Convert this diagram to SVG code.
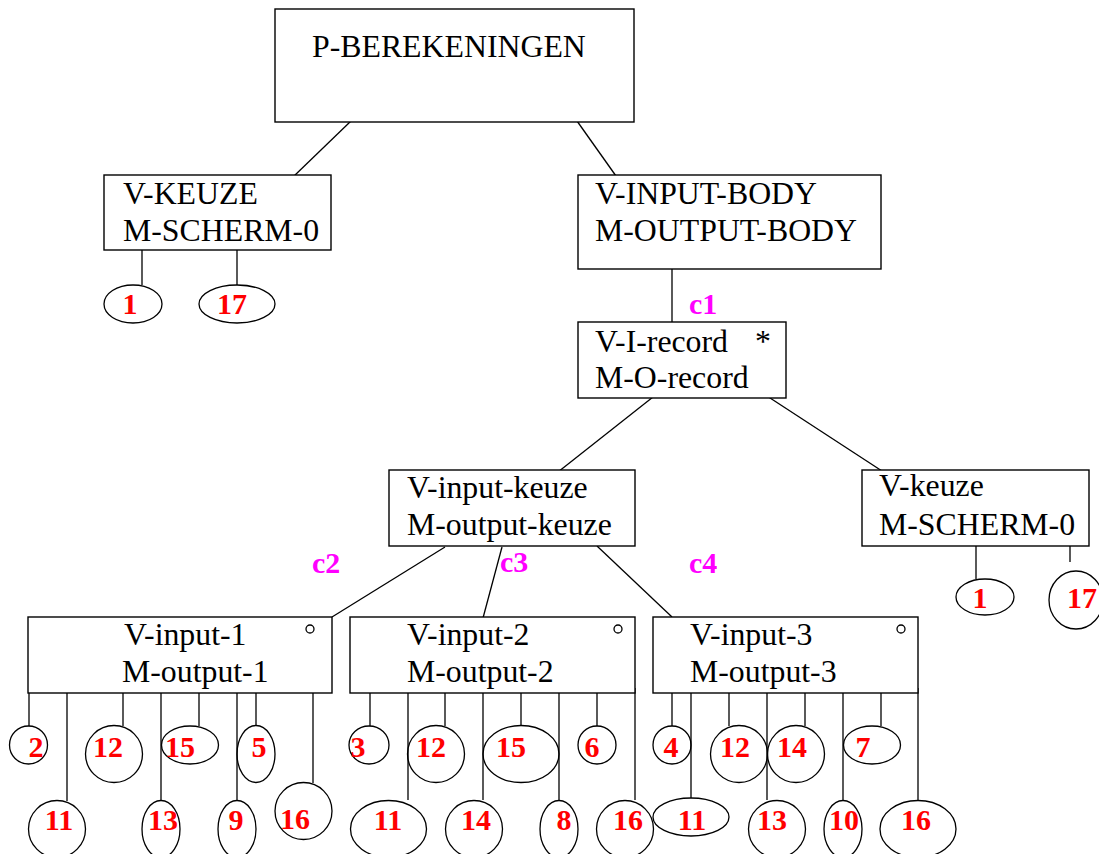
<svg xmlns="http://www.w3.org/2000/svg" width="1099" height="854" viewBox="0 0 1099 854">
<style>
.box{fill:#fff;stroke:#000;stroke-width:1.4}
.t{font-family:"Liberation Serif","Times New Roman",serif;font-size:31.8px;fill:#000}
.n{font-family:"Liberation Serif","Times New Roman",serif;font-size:30px;font-weight:bold;fill:#ff0000;text-anchor:middle}
.c{font-family:"Liberation Serif","Times New Roman",serif;font-size:30px;font-weight:bold;fill:#ff00ff}
.e{fill:none;stroke:#000;stroke-width:1.3}
.l{stroke:#000;stroke-width:1.3;fill:none}
.deg{fill:none;stroke:#000;stroke-width:1.3}
</style>
<rect width="1099" height="854" fill="#fff"/>
<g id="connectors">
<line class="l" x1="351" y1="121" x2="293" y2="177"/>
<line class="l" x1="577" y1="121" x2="616" y2="176"/>
<line class="l" x1="672" y1="268" x2="672" y2="323"/>
<line class="l" x1="653" y1="397" x2="558" y2="472"/>
<line class="l" x1="767" y1="396" x2="882" y2="471"/>
<line class="l" x1="445" y1="547" x2="332" y2="617"/>
<line class="l" x1="502" y1="547" x2="483" y2="618"/>
<line class="l" x1="597" y1="546" x2="672" y2="617"/>
<line class="l" x1="142" y1="250" x2="142" y2="285"/>
<line class="l" x1="237" y1="250" x2="237" y2="285"/>
<line class="l" x1="976" y1="546" x2="976" y2="579"/>
<line class="l" x1="1070" y1="546" x2="1070" y2="562"/>
<line class="l" x1="29" y1="688" x2="29" y2="726"/>
<line class="l" x1="67" y1="688" x2="67" y2="801"/>
<line class="l" x1="123" y1="688" x2="123" y2="726"/>
<line class="l" x1="161" y1="688" x2="161" y2="800"/>
<line class="l" x1="199" y1="688" x2="199" y2="726"/>
<line class="l" x1="237" y1="688" x2="237" y2="800"/>
<line class="l" x1="256" y1="688" x2="256" y2="726"/>
<line class="l" x1="313" y1="688" x2="313" y2="783"/>
<line class="l" x1="370" y1="688" x2="370" y2="726"/>
<line class="l" x1="408" y1="688" x2="408" y2="800"/>
<line class="l" x1="445" y1="688" x2="445" y2="726"/>
<line class="l" x1="483" y1="688" x2="483" y2="800"/>
<line class="l" x1="521" y1="688" x2="521" y2="726"/>
<line class="l" x1="559" y1="688" x2="559" y2="800"/>
<line class="l" x1="597" y1="688" x2="597" y2="726"/>
<line class="l" x1="635" y1="688" x2="635" y2="800"/>
<line class="l" x1="672" y1="688" x2="672" y2="726"/>
<line class="l" x1="691" y1="688" x2="691" y2="798"/>
<line class="l" x1="729" y1="688" x2="729" y2="726"/>
<line class="l" x1="767" y1="688" x2="767" y2="800"/>
<line class="l" x1="805" y1="688" x2="805" y2="726"/>
<line class="l" x1="843" y1="688" x2="843" y2="800"/>
<line class="l" x1="881" y1="688" x2="881" y2="726"/>
<line class="l" x1="918" y1="688" x2="918" y2="800"/>
</g>
<g id="root">
<rect class="box" x="275" y="9" width="359" height="113"/>
<text class="t" x="312" y="57">P-BEREKENINGEN</text>
</g>
<g id="v-keuze-top">
<rect class="box" x="104" y="175" width="227" height="75"/>
<text class="t" x="123" y="204">V-KEUZE</text>
<text class="t" x="123" y="241">M-SCHERM-0</text>
</g>
<g id="v-input-body">
<rect class="box" x="578" y="175" width="303" height="94"/>
<text class="t" x="595" y="204">V-INPUT-BODY</text>
<text class="t" x="595" y="241">M-OUTPUT-BODY</text>
</g>
<g id="v-i-record">
<rect class="box" x="578" y="322" width="208" height="76"/>
<text class="t" x="595" y="352">V-I-record</text>
<text class="t" x="755" y="352">*</text>
<text class="t" x="595" y="388">M-O-record</text>
</g>
<g id="v-input-keuze">
<rect class="box" x="389" y="470" width="246" height="76"/>
<text class="t" x="407" y="498">V-input-keuze</text>
<text class="t" x="407" y="535">M-output-keuze</text>
</g>
<g id="v-keuze-right">
<rect class="box" x="862" y="470" width="227" height="76"/>
<text class="t" x="879" y="496">V-keuze</text>
<text class="t" x="879" y="535">M-SCHERM-0</text>
</g>
<g id="v-input-1">
<rect class="box" x="28" y="617" width="304" height="76"/>
<text class="t" x="124" y="645">V-input-1</text>
<text class="t" x="122" y="682">M-output-1</text>
<circle class="deg" cx="310" cy="629" r="4"/>
</g>
<g id="v-input-2">
<rect class="box" x="350" y="617" width="285" height="76"/>
<text class="t" x="407" y="645">V-input-2</text>
<text class="t" x="407" y="682">M-output-2</text>
<circle class="deg" cx="618" cy="629" r="4"/>
</g>
<g id="v-input-3">
<rect class="box" x="653" y="617" width="265" height="76"/>
<text class="t" x="690" y="645">V-input-3</text>
<text class="t" x="690" y="682">M-output-3</text>
<circle class="deg" cx="901" cy="629" r="4"/>
</g>
<g id="conditions">
<text class="c" x="689" y="314">c1</text>
<text class="c" x="312" y="573">c2</text>
<text class="c" x="500" y="572">c3</text>
<text class="c" x="689" y="573">c4</text>
</g>
<g id="leaves-keuze-top">
<ellipse class="e" cx="133" cy="304" rx="29" ry="19"/><text class="n" x="130" y="314">1</text>
<ellipse class="e" cx="237" cy="304" rx="38" ry="19"/><text class="n" x="232" y="314">17</text>
</g>
<g id="leaves-keuze-right">
<ellipse class="e" cx="985" cy="597" rx="29" ry="18"/><text class="n" x="980" y="608">1</text>
<ellipse class="e" cx="1076" cy="600" rx="27" ry="29"/><text class="n" x="1082" y="608">17</text>
</g>
<g id="leaves-1">
<ellipse class="e" cx="28.5" cy="745" rx="19" ry="19"/><text class="n" x="36" y="757">2</text>
<ellipse class="e" cx="114" cy="754" rx="28.5" ry="28.5"/><text class="n" x="108" y="757">12</text>
<ellipse class="e" cx="190" cy="745" rx="28.5" ry="19"/><text class="n" x="180" y="757">15</text>
<ellipse class="e" cx="256" cy="754" rx="19" ry="28.5"/><text class="n" x="259" y="757">5</text>
<ellipse class="e" cx="57" cy="829" rx="28.5" ry="28.5"/><text class="n" x="59" y="830">11</text>
<ellipse class="e" cx="161" cy="829" rx="19" ry="28.5"/><text class="n" x="163" y="830">13</text>
<ellipse class="e" cx="237" cy="829" rx="19" ry="28.5"/><text class="n" x="236" y="830">9</text>
<ellipse class="e" cx="303.5" cy="811" rx="28.5" ry="28.5"/><text class="n" x="295" y="829">16</text>
</g>
<g id="leaves-2">
<ellipse class="e" cx="369" cy="745" rx="20" ry="19"/><text class="n" x="358" y="757">3</text>
<ellipse class="e" cx="436" cy="754" rx="28.5" ry="28.5"/><text class="n" x="431" y="757">12</text>
<ellipse class="e" cx="521" cy="754" rx="38" ry="28.5"/><text class="n" x="511" y="757">15</text>
<ellipse class="e" cx="597" cy="745" rx="19" ry="19"/><text class="n" x="592" y="757">6</text>
<ellipse class="e" cx="388.5" cy="829" rx="38" ry="28.5"/><text class="n" x="388" y="830">11</text>
<ellipse class="e" cx="474" cy="829" rx="28.5" ry="28.5"/><text class="n" x="476" y="830">14</text>
<ellipse class="e" cx="559" cy="829" rx="19" ry="28.5"/><text class="n" x="564" y="830">8</text>
<ellipse class="e" cx="625" cy="829" rx="28.5" ry="28.5"/><text class="n" x="628" y="830">16</text>
</g>
<g id="leaves-3">
<ellipse class="e" cx="672" cy="745" rx="19" ry="19"/><text class="n" x="671" y="757">4</text>
<ellipse class="e" cx="739" cy="754" rx="28.5" ry="28.5"/><text class="n" x="735" y="757">12</text>
<ellipse class="e" cx="796" cy="754" rx="28.5" ry="28.5"/><text class="n" x="792" y="757">14</text>
<ellipse class="e" cx="872" cy="745" rx="28.5" ry="19"/><text class="n" x="863" y="757">7</text>
<ellipse class="e" cx="691" cy="817" rx="38" ry="19"/><text class="n" x="692" y="830">11</text>
<ellipse class="e" cx="777" cy="829" rx="28.5" ry="28.5"/><text class="n" x="772" y="830">13</text>
<ellipse class="e" cx="843" cy="829" rx="19" ry="28.5"/><text class="n" x="844" y="830">10</text>
<ellipse class="e" cx="918" cy="829" rx="38" ry="28.5"/><text class="n" x="916" y="830">16</text>
</g>
</svg>
